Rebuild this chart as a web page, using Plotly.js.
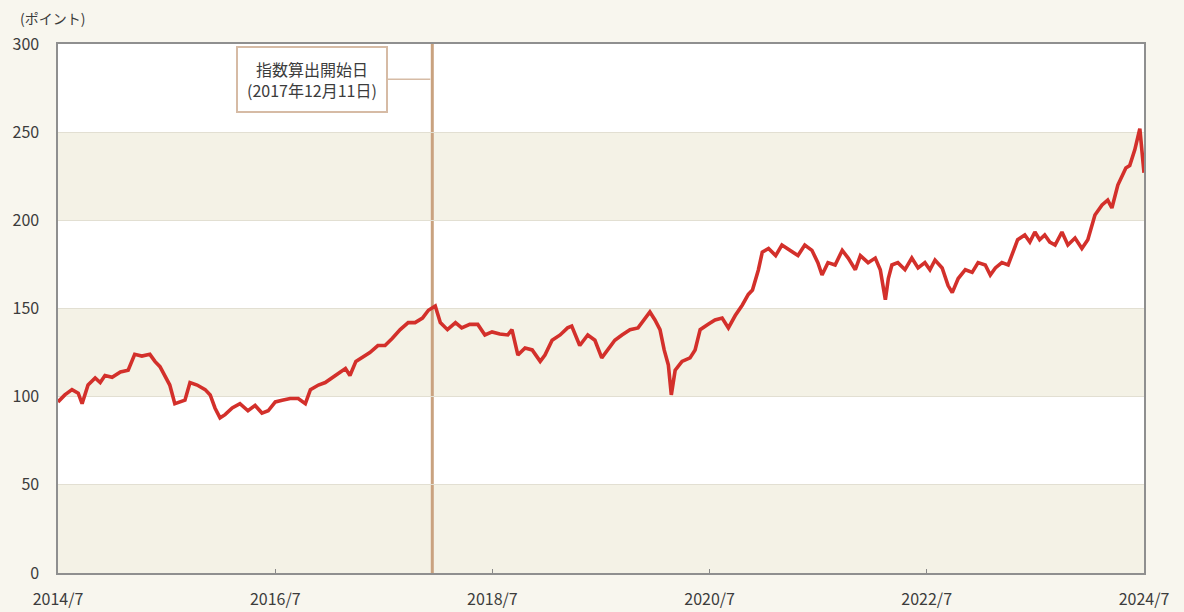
<!DOCTYPE html>
<html>
<head>
<meta charset="utf-8">
<script src="https://cdn.plot.ly/plotly-3.0.1.min.js"></script>
<style>
  html, body { margin: 0; padding: 0; background: #f8f6ee; }
  #chart { width: 1184px; height: 612px; }
</style>
</head>
<body>
<div id="chart"></div>
<script>
// ---- data ----
const dates = [
  '2014-07-01','2014-07-24','2014-08-17','2014-09-07','2014-09-20','2014-10-10','2014-11-03','2014-11-20',
  '2014-12-06','2014-12-30','2015-01-27','2015-02-22','2015-03-16','2015-04-09','2015-05-06','2015-05-23',
  '2015-06-09','2015-06-29','2015-07-12','2015-07-29','2015-08-15','2015-09-01','2015-09-18','2015-10-12',
  '2015-11-08','2015-11-25','2015-12-11','2015-12-28','2016-01-14','2016-02-07','2016-03-04','2016-03-31',
  '2016-04-24','2016-05-17','2016-06-07','2016-07-01','2016-07-24','2016-08-20','2016-09-16','2016-10-10',
  '2016-10-27','2016-11-23','2016-12-16','2017-01-09','2017-02-05','2017-02-22','2017-03-09','2017-03-29',
  '2017-04-18','2017-05-15','2017-06-11','2017-07-05','2017-07-29','2017-08-25','2017-09-21','2017-10-14',
  '2017-11-08','2017-11-28','2017-12-21','2018-01-07','2018-01-31','2018-02-27','2018-03-20','2018-04-16',
  '2018-05-13','2018-06-06','2018-06-30','2018-07-26','2018-08-22','2018-09-05','2018-09-25','2018-10-19',
  '2018-11-12','2018-12-09','2018-12-25','2019-01-18','2019-02-14','2019-03-11','2019-03-25','2019-04-21',
  '2019-05-18','2019-06-11','2019-07-04','2019-07-24','2019-08-17','2019-09-10','2019-10-07','2019-11-03',
  '2019-11-27','2019-12-13','2019-12-30','2020-01-16','2020-01-30','2020-02-13','2020-02-23','2020-03-07',
  '2020-03-30','2020-04-26','2020-05-13','2020-05-30','2020-06-26','2020-07-19','2020-08-12','2020-09-02',
  '2020-09-25','2020-10-19','2020-11-08','2020-11-22','2020-12-12','2020-12-25','2021-01-15','2021-02-08',
  '2021-03-01','2021-03-28','2021-04-24','2021-05-17','2021-06-10','2021-06-30','2021-07-14','2021-08-03',
  '2021-08-27','2021-09-20','2021-10-10','2021-11-03','2021-11-20','2021-12-16','2022-01-09','2022-01-26',
  '2022-02-12','2022-02-22','2022-03-06','2022-03-26','2022-04-19','2022-05-12','2022-06-02','2022-06-25',
  '2022-07-12','2022-07-29','2022-08-22','2022-09-11','2022-09-25','2022-10-15','2022-11-08','2022-12-01',
  '2022-12-21','2023-01-14','2023-01-31','2023-02-17','2023-03-11','2023-04-01','2023-04-14','2023-05-03',
  '2023-05-27','2023-06-13','2023-06-30','2023-07-16','2023-08-02','2023-08-19','2023-09-06','2023-09-29',
  '2023-10-19','2023-11-12','2023-12-05','2023-12-25','2024-01-18','2024-02-11','2024-03-01','2024-03-15',
  '2024-04-04','2024-04-18','2024-05-01','2024-05-14','2024-05-31','2024-06-17','2024-07-01'
];
const indexValues = [
  97,101,104,102,96,106.6,110.6,108,
  112,111,114,115,124,123,124,120,
  117,110.6,106.6,96,97,98,108,106.6,
  104,101,93.6,88,89.8,93.6,96,92,
  95,90.7,92,97,98,99,99,96,
  104,106.6,108,110.6,114,116,112,120,
  122,125,129,129,133,138,142,142,
  144.6,149,151.4,142,138,142,139,141,
  141,135,136.7,135.5,135,138,123.6,127.6,
  126.5,120,123.6,132,135,139,140,129,
  135,132,122,126.5,132,135,138,139,
  144.6,148,143.5,138,126.5,118,101,115,
  120,122,126.5,138,141,143.5,144.6,139,
  146,152,158,160.5,172,182,184,180,
  186,183,180,186,183,176,169,176,
  174.7,183,178.6,172,180,176,178.6,172,
  155,167,174.7,176,172,178.6,173,176,
  172,177.5,173,163,159,167,172,170.5,
  176,174.7,169,173,176,174.7,180,189,
  191.7,187.7,193.4,189,191.7,187.7,186,193.4,
  186,190,184,189,203,208.7,211.5,207,
  220,225.7,229.7,231,240,252,227
];
const tickDates  = ['2014-07-01','2016-07-01','2018-07-01','2020-07-01','2022-07-01','2024-07-01'];
const tickLabels = ['2014/7','2016/7','2018/7','2020/7','2022/7','2024/7'];
const yTicks     = [0,50,100,150,200,250,300];
const bandStarts = [0,100,200];          // shaded bands (each 50 points tall)
const startDate  = '2017-12-11';
const startLabel = '指数算出開始日<br>(2017年12月11日)';
const unitLabel  = '(ポイント)';

// ---- styles ----
const FONT = '"Noto Sans CJK JP", "Noto Sans", sans-serif';
const PAPER = '#f8f6ee';
const BAND = '#f4f2e6';
const RED = '#d3302b';
const TAN = '#c9a27f';
const TXT = '#3c3c3c';

const shapes = bandStarts.map(b => ({
  type: 'rect', xref: 'paper', yref: 'y', x0: 0, x1: 1, y0: b, y1: b + 50,
  fillcolor: BAND, line: { width: 0 }, layer: 'below'
}));
shapes.push({
  type: 'line', xref: 'x', yref: 'paper', x0: startDate, x1: startDate, y0: 0, y1: 1,
  line: { color: TAN, width: 3 }, layer: 'below'
});

const trace = {
  x: dates, y: indexValues, type: 'scatter', mode: 'lines',
  line: { color: RED, width: 3.6, shape: 'linear' }, hoverinfo: 'x+y'
};

const layout = {
  width: 1184, height: 612,
  paper_bgcolor: PAPER, plot_bgcolor: '#ffffff',
  margin: { l: 58, r: 40, t: 44, b: 39 },
  showlegend: false,
  font: { family: FONT, color: TXT, size: 16 },
  xaxis: {
    type: 'date', range: [tickDates[0], tickDates[tickDates.length - 1]],
    tickmode: 'array', tickvals: tickDates, ticktext: tickLabels,
    ticks: 'inside', ticklen: 4, tickwidth: 1.2, tickcolor: '#888888',
    ticklabelstandoff: 11,
    showgrid: false, zeroline: false,
    showline: true, linecolor: '#8f8f8f', linewidth: 1.6, mirror: true,
    tickfont: { family: FONT, size: 16, color: TXT }
  },
  yaxis: {
    range: [0, 300], tickmode: 'array', tickvals: yTicks,
    ticks: '', ticklabelstandoff: 14,
    showgrid: true, gridcolor: '#e2dfd2', gridwidth: 1, zeroline: false,
    showline: true, linecolor: '#8f8f8f', linewidth: 1.6, mirror: true,
    tickfont: { family: FONT, size: 16, color: TXT }
  },
  shapes: shapes,
  annotations: [
    {
      xref: 'paper', yref: 'paper', x: 0, y: 1, xanchor: 'left', yanchor: 'middle',
      xshift: -40, yshift: 26, showarrow: false, text: unitLabel,
      font: { family: FONT, size: 14, color: TXT }
    },
    {
      xref: 'x', yref: 'y', x: startDate, y: 280, text: startLabel,
      showarrow: true, arrowhead: 0, arrowwidth: 1.6, arrowcolor: '#d6bba5',
      ax: -120, ay: 0, standoff: 2,
      bgcolor: '#ffffff', bordercolor: '#d6bba5', borderwidth: 2, borderpad: 9,
      align: 'center', font: { family: FONT, size: 16, color: TXT }
    }
  ]
};

Plotly.newPlot('chart', [trace], layout, { displayModeBar: false, staticPlot: true });
</script>
</body>
</html>
